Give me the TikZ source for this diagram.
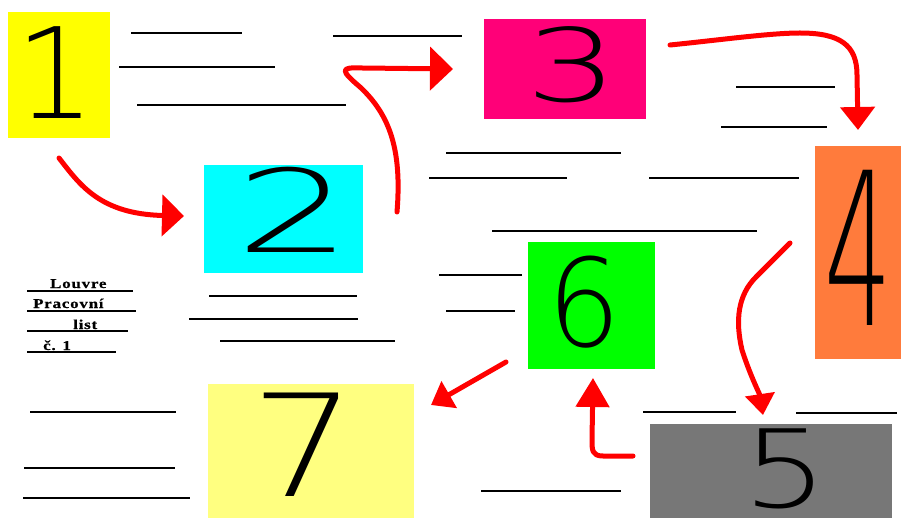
\documentclass[tikz,border=0pt]{standalone}
\usepackage{fontspec}
\usetikzlibrary{arrows.meta}
\setmainfont{Liberation Serif}
\newfontfamily\digitfont{DejaVuSans-ExtraLight.ttf}
\newfontfamily\titlefont{Liberation Serif}[FakeStretch=1.25, LetterSpace=6, FakeBold=0.6]
\definecolor{cOne}{HTML}{FFFF00}
\definecolor{cTwo}{HTML}{00FFFF}
\definecolor{cThree}{HTML}{FF0078}
\definecolor{cFour}{HTML}{FF7B3C}
\definecolor{cFive}{HTML}{777777}
\definecolor{cSix}{HTML}{00FF00}
\definecolor{cSeven}{HTML}{FFFF80}
\definecolor{redpen}{HTML}{FF0000}
\newcommand{\mydigit}[3]{\scalebox{#2}[1]{\digitfont\fontsize{#1}{#1}\selectfont #3}}
\tikzset{
  box/.style={draw=none, inner sep=0pt, anchor=north west},
  digit/.style={inner sep=0pt, text=black},
  rule/.style={line width=2pt, black},
  redarrow/.style={line width=5pt, redpen, line cap=round, line join=round},
  title/.style={inner sep=0pt, anchor=base west, font=\titlefont\bfseries\fontsize{13.5}{14}\selectfont},
}
\begin{document}
\begin{tikzpicture}[x=1pt, y=-1pt]
\useasboundingbox (0,0) rectangle (901,518);
% boxes
\node[box, fill=cOne,   minimum width=102pt, minimum height=126pt] (b1) at (8,12) {};
\node[box, fill=cTwo,   minimum width=159pt, minimum height=108pt] (b2) at (204,165) {};
\node[box, fill=cThree, minimum width=162pt, minimum height=100pt] (b3) at (484,19) {};
\node[box, fill=cFour,  minimum width=86pt,  minimum height=213pt] (b4) at (815,146) {};
\node[box, fill=cFive,  minimum width=242pt, minimum height=94pt] (b5) at (650,424) {};
\node[box, fill=cSix,   minimum width=127pt, minimum height=127pt] (b6) at (528,242) {};
\node[box, fill=cSeven, minimum width=206pt, minimum height=134pt] (b7) at (208,384) {};
% digits
\node[digit] (d1) at (56,73)  {\mydigit{126}{1}{1}};
\node[digit] (d2) at (294,210) {\mydigit{115}{1.6}{2}};
\node[digit] (d3) at (572,65)  {\mydigit{101}{1.45}{3}};
\node[digit] (d4) at (858,248) {\mydigit{213}{0.5}{4}};
\node[digit] (d5) at (785,469) {\mydigit{108}{1.25}{5}};
\node[digit] (d6) at (584,302) {\mydigit{122}{0.95}{6}};
\node[digit] (d7) at (304,445) {\mydigit{142}{1.18}{7}};
% rules
\draw[rule] (131,33) -- (242,33);
\draw[rule] (119,67) -- (275,67);
\draw[rule] (137,105) -- (346,105);
\draw[rule] (333,36) -- (462,36);
\draw[rule] (446,153) -- (621,153);
\draw[rule] (429,178) -- (567,178);
\draw[rule] (736,87) -- (835,87);
\draw[rule] (721,127) -- (827,127);
\draw[rule] (649,178) -- (799,178);
\draw[rule] (492,231) -- (757,231);
\draw[rule] (439,275) -- (522,275);
\draw[rule] (446,311) -- (515,311);
\draw[rule] (643,412) -- (736,412);
\draw[rule] (796,413) -- (897,413);
\draw[rule] (481,491) -- (621,491);
\draw[rule] (30,412) -- (176,412);
\draw[rule] (24,468) -- (175,468);
\draw[rule] (23,498) -- (190,498);
\draw[rule] (209,296) -- (357,296);
\draw[rule] (189,319) -- (358,319);
\draw[rule] (220,341) -- (395,341);
% title
\node[title] (t1) at (50,288) {Louvre};
\node[title] (t2) at (33,308) {Pracovní};
\node[title] (t3) at (73,329) {list};
\node[title] (t4) at (43,350) {č. 1};
\draw[line width=1.2pt] (27,291) -- (133,291);
\draw[line width=1.2pt] (27,311) -- (136,311);
\draw[line width=1.2pt] (27,331) -- (128,331);
\draw[line width=1.2pt] (27,352) -- (116,352);
% arrows
\coordinate (a1s) at (59,158);  \coordinate (a1e) at (184,216);
\coordinate (a2s) at (397,212); \coordinate (a2e) at (453,69);
\coordinate (a3s) at (670,45);  \coordinate (a3e) at (858,130);
\coordinate (a4s) at (790,243); \coordinate (a4e) at (763,415);
\coordinate (a5s) at (633,456); \coordinate (a5e) at (593,378);
\coordinate (a6s) at (506,362); \coordinate (a6e) at (431,405);
\draw[redarrow, -{Triangle[length=22pt,width=41pt]}] (a1s) .. controls (80,185) and (100,214) .. (a1e);
\draw[redarrow, -{Triangle[length=23pt,width=43pt]}] (a2s) .. controls (402,150) and (390,115) .. (360,87) .. controls (340,70) and (340,67) .. (362,68) -- (a2e);
\draw[redarrow, -{Triangle[length=23pt,width=34pt]}] (a3s) .. controls (720,40) and (770,33) .. (800,33) .. controls (840,33) and (857,45) .. (857,75) -- (a3e);
\draw[redarrow, -{Triangle[length=21pt,width=29pt]}] (a4s) -- (756,277) .. controls (738,295) and (735,320) .. (742,350) .. controls (750,375) and (760,395) .. (a4e);
\draw[redarrow, -{Triangle[length=29pt,width=33pt]}] (a5s) -- (603,456) .. controls (592,456) and (592,450) .. (592,440) -- (a5e);
\draw[redarrow, -{Triangle[length=21pt,width=30pt]}] (a6s) -- (a6e);
\end{tikzpicture}
\end{document}
